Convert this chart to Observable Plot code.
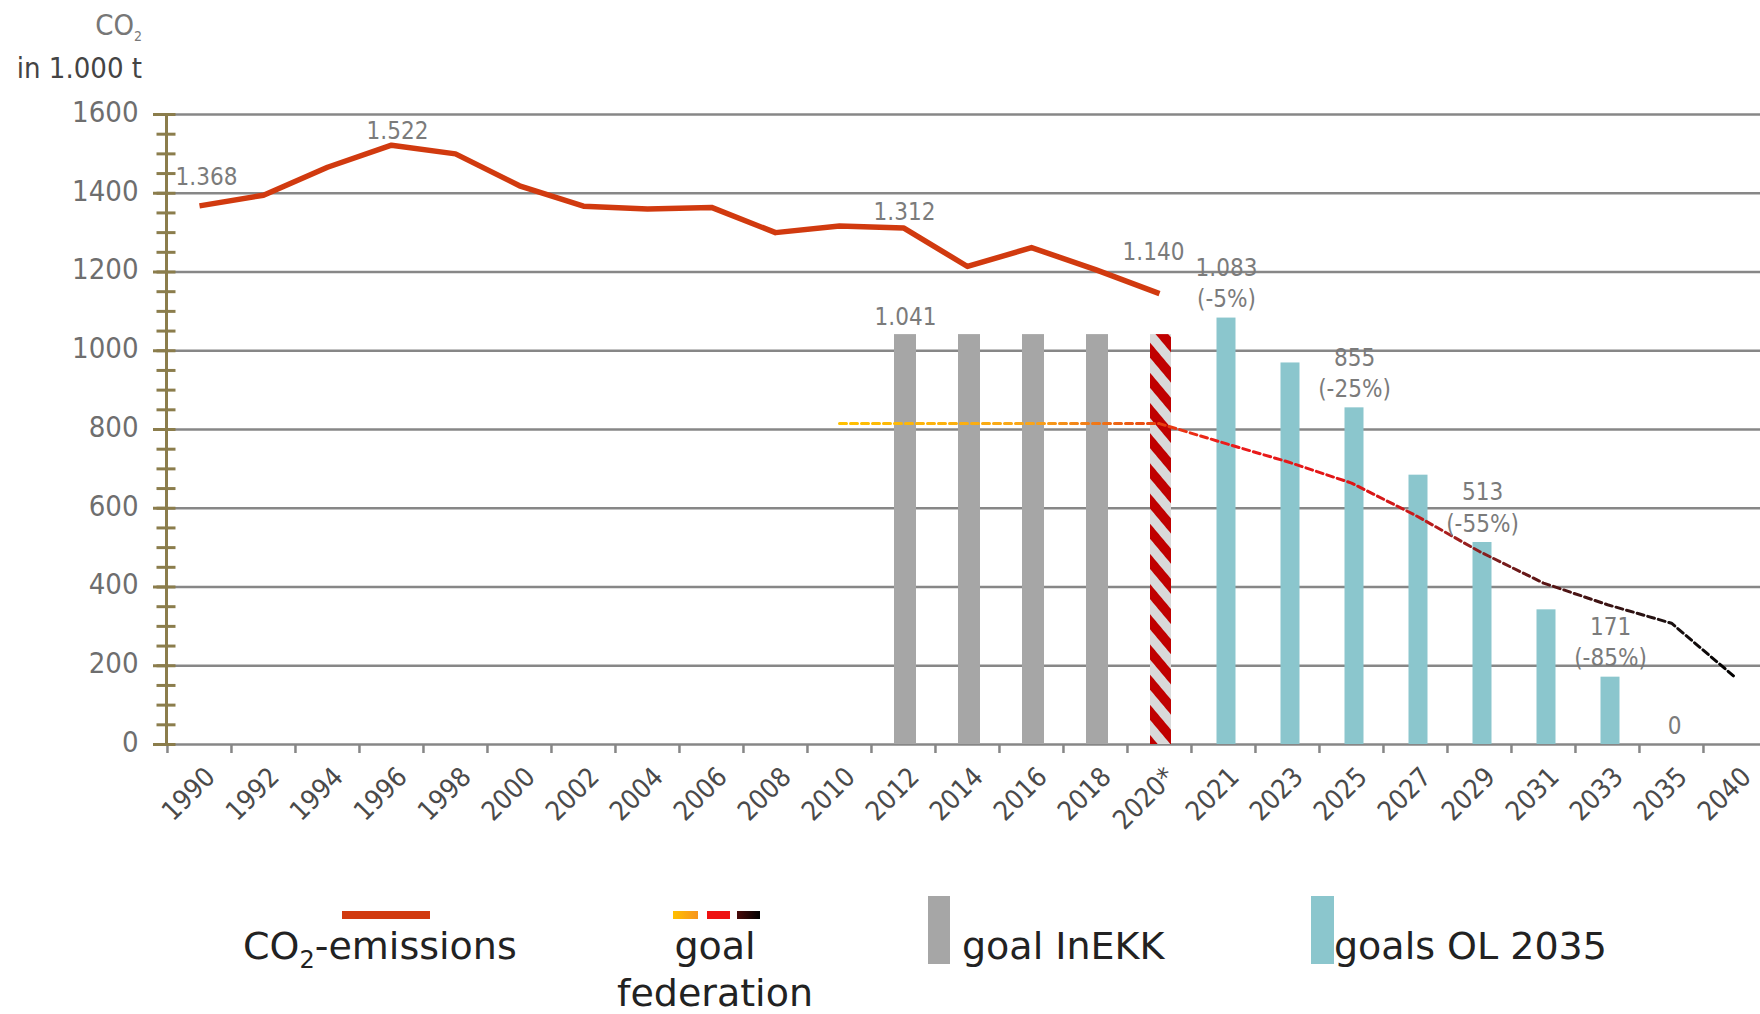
<!DOCTYPE html>
<html>
<head>
<meta charset="utf-8">
<script src="https://cdn.jsdelivr.net/npm/d3@7"></script>
<script src="https://cdn.jsdelivr.net/npm/@observablehq/plot@0.6"></script>
<style>
  html, body { margin: 0; padding: 0; background: #fff; overflow: hidden; }
  #wrap { position: relative; width: 1760px; height: 1014px; overflow: hidden; }
  #chart { position: absolute; left: 0; top: 0; }
  .narrow { font-family: "Liberation Sans Narrow", "Arial Narrow", "DejaVu Sans Condensed", sans-serif; }
  .leg { position: absolute; font-family: "DejaVu Sans", sans-serif; font-size: 38px; line-height: 38px; color: #222; white-space: nowrap; }
  .sw { position: absolute; }
  .unit { position: absolute; left: 0; width: 142px; text-align: right; white-space: nowrap; }
</style>
</head>
<body>
<div id="wrap">
  <div id="chart"></div>
  <div class="unit narrow" style="top:11px;font-size:29px;line-height:29px;color:#777;">CO<span style="font-size:14px;position:relative;top:6px;">2</span></div>
  <div class="unit narrow" style="top:54px;font-size:29px;line-height:29px;color:#444;">in 1.000 t</div>

  <div class="sw" style="left:342px;top:911px;width:88px;height:8px;background:#d13a0f;"></div>
  <div class="leg" style="left:243px;top:927px;">CO<span style="font-size:24px;position:relative;top:9px;">2</span>-emissions</div>

  <div class="sw" style="left:673px;top:911px;width:25px;height:8px;background:linear-gradient(90deg,#ffc000,#f7941d);"></div>
  <div class="sw" style="left:707px;top:911px;width:23px;height:8px;background:#ee1111;"></div>
  <div class="sw" style="left:737px;top:911px;width:23px;height:8px;background:linear-gradient(90deg,#4a0a0a,#000);"></div>
  <div class="leg" style="left:615px;width:200px;text-align:center;top:927px;">goal</div>
  <div class="leg" style="left:615px;width:200px;text-align:center;top:974px;">federation</div>

  <div class="sw" style="left:928px;top:896px;width:22px;height:68px;background:#a6a6a6;"></div>
  <div class="leg" style="left:962px;top:927px;">goal InEKK</div>

  <div class="sw" style="left:1311px;top:896px;width:23px;height:68px;background:#8bc6cd;"></div>
  <div class="leg" style="left:1334px;top:927px;">goals OL 2035</div>
</div>
<script>
// ---------- data ----------
const xLabels = ["1990","1992","1994","1996","1998","2000","2002","2004","2006","2008","2010","2012","2014","2016","2018","2020*","2021","2023","2025","2027","2029","2031","2033","2035","2040"];
const yTicks = [0, 200, 400, 600, 800, 1000, 1200, 1400, 1600];
const yMinorTicks = d3.range(0, 1601, 50);

const emissionYears  = ["1990","1992","1994","1996","1998","2000","2002","2004","2006","2008","2010","2012","2014","2016","2018","2020*"];
const emissionValues = [1368, 1395, 1466, 1522, 1500, 1419, 1367, 1360, 1364, 1300, 1317, 1312, 1214, 1262, 1206, 1145];
const emissionLabelYears = ["1990","1996","2012","2020*"];
const emissionLabelTexts = ["1.368","1.522","1.312","1.140"];

const inekkYears  = ["2012","2014","2016","2018"];
const inekkValues = [1041, 1041, 1041, 1041];
const inekkLabel  = "1.041";

const hatchYears  = ["2020*"];
const hatchValues = [1041];

const olYears  = ["2021","2023","2025","2027","2029","2031","2033","2035"];
const olValues = [1083, 969, 855, 684, 513, 342, 171, 0];
const olLabels = ["1.083\n(-5%)", "", "855\n(-25%)", "", "513\n(-55%)", "", "171\n(-85%)", "0"];

const fedYears  = ["2010","2020*","2021","2023","2025","2027","2029","2031","2033","2035","2040"];
const fedValues = [815, 815, 766, 718, 664, 582, 490, 410, 355, 308, 170];

// ---------- styles ----------
const NARROW = '"Liberation Sans Narrow", "Arial Narrow", "DejaVu Sans Condensed", sans-serif';
const OLIVE = "#8b7d4c";
const GRID = "#878787";
const LABEL = "#7b7b7b";
const emLabelOffsets = {"1990": [7, -21], "1996": [6, -6], "2012": [1, -8], "2020*": [-6, -34]};

const emissions = emissionYears.map((x, i) => ({x, y: emissionValues[i]}));
const inekk = inekkYears.map((x, i) => ({x, y: inekkValues[i]}));
const hatch = hatchYears.map((x, i) => ({x, y: hatchValues[i]}));
const ol = olYears.map((x, i) => ({x, y: olValues[i], t: olLabels[i]}));
const fed = fedYears.map((x, i) => ({x, y: fedValues[i]}));
const emLabels = emissionLabelYears.map((x, i) => ({x, y: emissionValues[emissionYears.indexOf(x)], t: emissionLabelTexts[i]}));

const chart = Plot.plot({
  width: 1760,
  height: 880,
  marginLeft: 166,
  marginRight: 0,
  marginTop: 114,
  marginBottom: 136,
  style: {fontFamily: NARROW, background: "transparent", overflow: "hidden"},
  x: {type: "band", domain: xLabels, range: [166, 1768], padding: 0, axis: null},
  y: {domain: [0, 1600], axis: null},
  marks: [
    Plot.ruleY(yTicks, {stroke: GRID, strokeWidth: 2.7}),
    Plot.barY(inekk, {x: "x", y: "y", fill: "#a6a6a6", insetLeft: 21, insetRight: 21, dx: 2}),
    Plot.barY(hatch, {x: "x", y: "y", fill: "url(#hatch)", insetLeft: 21.5, insetRight: 21.5, dx: 1.5}),
    Plot.barY(ol, {x: "x", y: "y", fill: "#8bc6cd", insetLeft: 22.5, insetRight: 22.5, dx: 3}),
    Plot.line(fed, {x: "x", y: "y", stroke: "url(#fedGrad)", strokeWidth: 3, strokeDasharray: "7,4", curve: "linear"}),
    Plot.line(emissions, {x: "x", y: "y", stroke: "#d13a0f", strokeWidth: 5.5, curve: "linear", strokeLinejoin: "round", strokeLinecap: "butt"}),
    // value labels
    ...emLabels.map(d => Plot.text([d], {x: "x", y: "y", text: "t", dx: emLabelOffsets[d.x][0], dy: emLabelOffsets[d.x][1], lineAnchor: "bottom", fontSize: 24, fill: LABEL})),
    Plot.text([inekk[0]], {x: "x", y: "y", text: () => inekkLabel, dx: 2, dy: -10, lineAnchor: "bottom", fontSize: 24, fill: LABEL}),
    Plot.text(ol.filter(d => d.t), {x: "x", y: "y", text: "t", dx: 3, dy: -11, lineAnchor: "bottom", lineHeight: 1.3, fontSize: 24, fill: LABEL}),
    // x axis tick marks at band boundaries
    Plot.axisX({tickSize: 9, dx: -32.04, tickFormat: () => "", stroke: GRID, strokeWidth: 2.5, label: null}),
    // x axis labels
    Plot.axisX({tickSize: 0, tickPadding: 28, tickRotate: -45, fontSize: 27, fill: "#4a4a4a", dx: 11, label: null}),
    // y axis
    Plot.frame({anchor: "left", stroke: OLIVE, strokeWidth: 3}),
    Plot.axisY(yMinorTicks, {tickSize: 19, dx: 9.5, tickFormat: () => "", stroke: OLIVE, strokeWidth: 3, label: null}),
    Plot.axisY(yTicks, {tickSize: 13, tickFormat: () => "", stroke: OLIVE, strokeWidth: 3, label: null}),
    Plot.axisY(yTicks, {tickSize: 0, tickPadding: 28, fontSize: 29, fill: "#6e6e6e", tickFormat: d => String(d), dy: -2, label: null})
  ]
});

// defs: gradient for the federal goal line, hatch pattern for 2020*
const svg = d3.select(chart);
const defs = svg.insert("defs", ":first-child");
const i0 = xLabels.indexOf("2010"), i1 = xLabels.indexOf("2040");
const off = y => (xLabels.indexOf(y) - i0) / (i1 - i0);
const gradStops = [
  ["2010", "#ffc000"], ["2016", "#f9a51a"], ["2018", "#f07818"], ["2020*", "#e8400f"],
  ["2021", "#ec1c1c"], ["2025", "#e01515"], ["2027", "#c81b1b"], ["2029", "#8a2020"],
  ["2031", "#5a1515"], ["2035", "#1a1010"], ["2040", "#000000"]
];
const g = defs.append("linearGradient").attr("id", "fedGrad")
  .attr("x1", 0).attr("x2", 1).attr("y1", 0).attr("y2", 0);
gradStops.forEach(([y, c]) => g.append("stop").attr("offset", off(y)).attr("stop-color", c));

const p = defs.append("pattern").attr("id", "hatch")
  .attr("patternUnits", "userSpaceOnUse").attr("width", 20).attr("height", 19.4)
  .attr("patternTransform", "rotate(50)");
p.append("rect").attr("width", 20).attr("height", 19.4).attr("fill", "#d9d9d9");
p.append("rect").attr("width", 20).attr("height", 9.7).attr("fill", "#c00000");

document.getElementById("chart").appendChild(chart);
</script>
</body>
</html>
